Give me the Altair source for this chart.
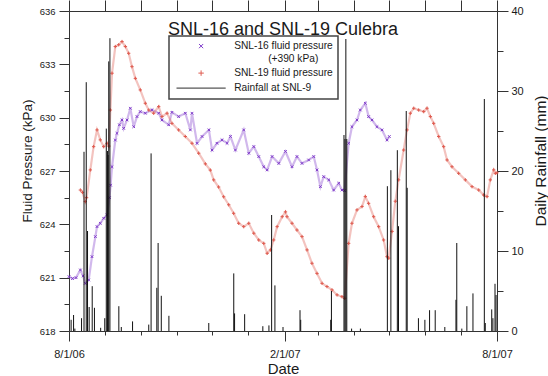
import altair as alt
import pandas as pd

# Days after 8/1/06 and fluid pressure (kPa); SNL-16 already shifted by +390 kPa
snl16_day = [0, 3, 6, 9.7, 12, 13.9, 16.8, 19.6, 22.5, 23.9, 26.7, 29.6, 32.4, 34.5, 35.5, 36.7,
             39.5, 40.9, 43, 45.2, 46.6, 49.5, 52.3, 55.2, 58.0, 60.8, 65.1, 70.8, 76.5, 79.3,
             85.0, 87.8, 93.5, 99.2, 103.5, 104.9, 109.2, 113.5, 119.3, 122, 126.2, 130.5,
             134.8, 137.7, 141.9, 149.0, 153.3, 157.6, 161.8, 166.1, 169.0, 173.2, 178.9,
             184.6, 190.2, 194.4, 198.7, 204.4, 208.7, 211.5, 214.4, 217.2, 221.5, 225.7,
             230.0, 232.8, 235.0, 238.5, 241.3, 245.6, 248.4, 252.7, 255.5, 258.4, 262.6,
             266.9, 271.2, 273.2]
snl16_kpa = [621.06, 620.95, 621.0, 621.43, 621.1, 620.68, 620.87, 622.18, 623.31, 623.87, 624.06,
             624.34, 624.53, 625.5, 626.2, 627.24, 628.74, 629.12, 629.6, 629.87, 629.4, 629.87,
             630.53, 629.49, 630.06, 630.34, 630.25, 630.44, 630.25, 629.87, 629.6, 630.3,
             630.06, 630.25, 629.31, 630.25, 628.56, 628.94, 629.31, 628.18, 628.56, 628.75,
             628.56, 628.94, 628.18, 629.31, 628.0, 628.37, 627.81, 627.24, 627.06, 627.81,
             627.43, 628.1, 627.24, 627.81, 627.43, 627.62, 627.81, 627.06, 626.12, 626.68,
             626.5, 625.93, 626.31, 625.93, 625.9, 628.56, 629.49, 629.87, 630.43, 630.81,
             630.06, 629.87, 629.49, 629.31, 628.75, 628.94]

snl19_day = [9.7, 11.5, 13.9, 15, 18.2, 21.0, 23.9, 26.7, 29.6, 32.4, 34, 35.3, 36.7, 39.5, 42.4,
             45.2, 48.1, 50.9, 53.7, 56.6, 60.8, 65.1, 68.0, 72.2, 76.5, 79.3, 83.6, 87.8, 93.5,
             99.2, 104.9, 110.6, 116.3, 120.5, 123.4, 127.6, 131.9, 136.2, 140.4, 144.7, 149.0,
             153.3, 157.6, 161.8, 166.1, 169.0, 171.8, 174.6, 177.5, 181.8, 184.6, 185.9, 190.2,
             194.4, 198.7, 203.0, 207.2, 211.5, 215.8, 220.0, 224.3, 228.6, 232.8, 235.1, 238.5,
             241.3, 245.6, 249.9, 252.7, 255.5, 259.8, 264.1, 268.3, 271.2, 272.6, 275.5, 278.3,
             281.1, 285.4, 288.3, 291.1, 294.0, 298.2, 302.5, 305.3, 308.2, 311.0, 315.3, 319.5,
             322.4, 326.6, 332.3, 338.0, 343.7, 349.4, 353.6, 356.5, 359.3, 362.2, 363.6, 365]
snl19_kpa = [625.93, 625.8, 625.28, 625.5, 627.06, 628.37, 629.31, 628.75, 628.37, 628.56, 628.4,
             630.43, 632.5, 634.0, 634.1, 634.28, 634.0, 633.62, 632.87, 632.21, 631.56, 630.81,
             630.43, 630.25, 630.62, 630.06, 630.25, 629.68, 629.31, 628.94, 628.56, 628.0,
             627.4, 627.05, 626.5, 626.1, 625.55, 625.1, 624.62, 624.06, 623.87, 624.06, 623.5,
             623.12, 622.93, 622.37, 622.56, 623.12, 623.87, 624.43, 624.7, 624.43, 624.06,
             623.68, 623.31, 622.56, 621.81, 621.24, 620.68, 620.5, 620.31, 620.03, 619.93,
             619.84, 622.93, 624.06, 624.81, 625.0, 625.56, 625.18, 624.43, 623.87, 623.12,
             622.18, 622.1, 623.6, 625.3, 626.5, 628.18, 629.31, 630.25, 630.53, 630.43, 630.34,
             630.53, 630.06, 629.68, 628.94, 628.37, 627.62, 627.24, 626.87, 626.5, 626.12,
             625.93, 625.65, 625.56, 626.5, 627.06, 626.87, 626.9]

# Daily rainfall at SNL-9 (mm)
rain_day = [1.8, 3.9, 5, 10.7, 12.8, 14.7, 15.8, 17.2, 19.8, 21.7, 27, 30.5, 31.8, 32.8, 33.3,
            33.9, 34.9, 42.5, 44.6, 54.2, 68, 70, 74.9, 76, 78.7, 85.2, 119.2, 140.5, 141.2,
            149.8, 165.3, 170.5, 172.8, 175.6, 182.5, 197, 197.6, 223.2, 223.8, 234.5, 235.3,
            236.1, 236.9, 241, 248.5, 271.5, 274.5, 280, 281, 287.6, 288.4, 298, 303.5, 307.5,
            312.3, 320.5, 330, 330.7, 335, 339.3, 344.5, 354.2, 355, 360.5, 361.5, 363.3, 364.2]
rain_mm = [1.4, 2.0, 0.3, 1.6, 22.4, 31.1, 12.5, 3.0, 5.6, 2.9, 0.4, 1.6, 25.3, 22.5, 22.0,
           33.7, 36.6, 3.1, 0.5, 1.2, 0.8, 22.2, 5.4, 11.0, 4.4, 1.9, 1.0, 7.2, 2.2,
           2.1, 0.6, 0.7, 14.5, 5.7, 0.5, 2.6, 1.4, 1.4, 5.0, 24.5, 24.0,
           36.5, 24.0, 0.3, 0.3, 18.1, 20.1, 22.6, 13.1, 27.5, 17.9, 1.6, 1.4, 2.6,
           2.6, 0.5, 3.9, 11.0, 0.3, 3.1, 4.7, 29.0, 1.0, 2.7, 1.6, 5.9, 4.5]

month_ticks = [0, 31, 61, 92, 122, 153, 184, 212, 243, 273, 304, 334, 365]
kpa_ticks = [618 + 1.5 * i for i in range(13)]
mm_ticks = [0, 5, 10, 15, 20, 25, 30, 35, 40]

SER16 = "SNL-16 fluid pressure"
SER19 = "SNL-19 fluid pressure"
SER9 = "Rainfall at SNL-9"
PURPLE = "#7B35C9"
RED = "#DE5448"

press = pd.DataFrame({
    "day": snl16_day + snl19_day,
    "kpa": snl16_kpa + snl19_kpa,
    "series": [SER16] * len(snl16_day) + [SER19] * len(snl19_day),
})
rain = pd.DataFrame({"day": rain_day, "mm": rain_mm})

FONT = "Liberation Sans"
AX = "#333333"
TXT = "#1a1a1a"

x_scale = alt.Scale(domain=[0, 365], nice=False, zero=False)
y_scale = alt.Scale(domain=[618, 636], nice=False, zero=False)
color_scale = alt.Scale(domain=[SER16, SER19, SER9], range=[PURPLE, RED, "#222222"])
shape_scale = alt.Scale(
    domain=[SER16, SER19, SER9],
    range=["M-0.7,-0.7L0.7,0.7M-0.7,0.7L0.7,-0.7", "M-0.9,0L0.9,0M0,-0.9L0,0.9", "M-8.2,0L8.2,0"],
)

second_line = "\u200b" + "\u00a0" * 12 + "(+390 kPa)"
legend = alt.Legend(
    title=None, orient="none", legendX=100, legendY=25,
    symbolSize=36, symbolOffset=22, labelOffset=28, symbolStrokeWidth=1,
    labelFont=FONT, labelFontSize=10.2, labelColor=TXT, labelLimit=220,
    labelExpr="datum.label == '" + SER16 + "' ? ['" + SER16 + "', '" + second_line + "'] : datum.label",
    padding=5, rowPadding=4, strokeColor="#444444", fillColor="white",
)

bottom_axis = alt.Axis(
    values=month_ticks, grid=False, title="Date",
    labelExpr="datum.value == 0 ? '8/1/06' : datum.value == 184 ? '2/1/07' : datum.value == 365 ? '8/1/07' : ''",
    tickSize={"condition": {"test": "datum.value == 0 || datum.value == 184 || datum.value == 365", "value": 10}, "value": 4},
    labelFont=FONT, labelFontSize=11, labelColor=TXT, labelPadding=7, labelFlush=False,
    titleFont=FONT, titleFontSize=15, titleFontWeight="normal", titleColor=TXT,
    titleBaseline="alphabetic", titleY=42,
    domainColor=AX, tickColor=AX,
)
top_axis = alt.Axis(
    orient="top", values=month_ticks, grid=False, labels=False, title=None,
    ticks=True, tickSize=11, tickWidth=1, domainColor=AX, tickColor=AX,
)
left_axis = alt.Axis(
    orient="left", values=kpa_ticks, grid=False, title="Fluid Pressure (kPa)",
    labelExpr="datum.value % 3 == 0 ? datum.label : ''",
    tickSize={"condition": {"test": "datum.value % 3 == 0", "value": 10}, "value": 5},
    labelFont=FONT, labelFontSize=9.5, labelColor=TXT, labelPadding=4,
    titleFont=FONT, titleFontSize=13.5, titleFontWeight="normal", titleColor=TXT,
    titleAngle=270, titleBaseline="middle", titleX=-42, titleY=149.5,
    domainColor=AX, tickColor=AX,
)
right_axis = alt.Axis(
    orient="right", values=mm_ticks, grid=False, title="Daily Rainfall (mm)",
    labelExpr="datum.value % 10 == 0 ? datum.label : ''",
    tickSize={"condition": {"test": "datum.value % 10 == 0", "value": 11}, "value": 6},
    labelFont=FONT, labelFontSize=11, labelColor=TXT, labelPadding=3,
    titleFont=FONT, titleFontSize=15.5, titleFontWeight="normal", titleColor=TXT,
    titleAngle=270, titleBaseline="middle", titleX=43, titleY=149.5,
    domainColor=AX, tickColor=AX,
)

base = alt.Chart(press).encode(
    x=alt.X("day:Q", scale=x_scale, axis=bottom_axis),
    y=alt.Y("kpa:Q", scale=y_scale, axis=left_axis),
)
line16 = base.transform_filter(alt.datum.series == SER16).mark_line(
    color=PURPLE, strokeWidth=2.2, opacity=0.35)
line19 = base.transform_filter(alt.datum.series == SER19).mark_line(
    color=RED, strokeWidth=2.2, opacity=0.35)
pts = base.mark_point(filled=False, size=14, strokeWidth=1, opacity=0.95).encode(
    color=alt.Color("series:N", scale=color_scale, legend=legend),
    shape=alt.Shape("series:N", scale=shape_scale, legend=legend),
)
pressure = alt.layer(line16, line19, pts)

rainfall = alt.Chart(rain).mark_rule(color="#111111", strokeWidth=1).encode(
    x=alt.X("day:Q", scale=x_scale, axis=top_axis),
    y=alt.Y("mm:Q", scale=alt.Scale(domain=[0, 40], nice=False, zero=True), axis=right_axis),
    y2=alt.datum(0),
)

chart = alt.layer(pressure, rainfall).resolve_scale(y="independent").resolve_axis(
    x="independent", y="independent"
).properties(
    width=428, height=320,
    padding={"left": 69, "top": 11, "right": 51, "bottom": 45},
    autosize=alt.AutoSizeParams(type="none"),
    title=alt.TitleParams(
        text="SNL-16 and SNL-19 Culebra", font=FONT, fontSize=18, fontWeight="normal",
        color=TXT, anchor="middle", frame="group", offset=-53, baseline="alphabetic",
    ),
).configure(
    font=FONT, background="white",
    style={"guide-label": {"lineHeight": 12.6}},
).configure_legend(strokeWidth=1.5, strokeColor="#444444").configure_view(strokeWidth=0)

chart.save("out.html", embed_options={"renderer": "svg", "actions": False})
